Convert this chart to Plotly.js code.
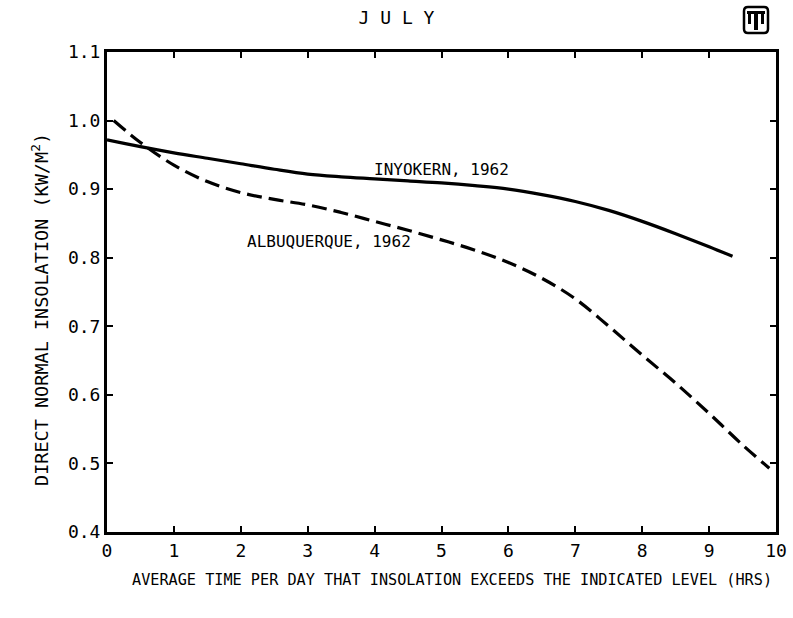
<!DOCTYPE html>
<html>
<head>
<meta charset="utf-8">
<script src="https://cdn.plot.ly/plotly-3.0.1.min.js"></script>
<style>html,body{margin:0;padding:0;background:#fff;}#chart{width:793px;height:618px;}</style>
</head>
<body>
<div id="chart"></div>
<script>
// Data
const inyokernHours = [0, 0.5, 1, 1.5, 2, 2.5, 3, 3.5, 4, 4.5, 5, 5.5, 6, 6.5, 7, 7.5, 8, 8.5, 9, 9.35];
const inyokernLevel = [0.972, 0.962, 0.953, 0.945, 0.937, 0.929, 0.922, 0.918, 0.915, 0.912, 0.909, 0.905, 0.900, 0.892, 0.882, 0.869, 0.853, 0.835, 0.816, 0.802];
const albuqHours = [0.1, 0.5, 1, 1.5, 2, 2.5, 3, 3.5, 4, 4.5, 5, 5.5, 6, 6.5, 7, 7.5, 8, 8.5, 9, 9.5, 9.9];
const albuqLevel = [1.0, 0.968, 0.935, 0.911, 0.895, 0.885, 0.877, 0.866, 0.853, 0.840, 0.826, 0.811, 0.793, 0.770, 0.740, 0.700, 0.658, 0.617, 0.573, 0.527, 0.493];
const xTickVals = [0, 1, 2, 3, 4, 5, 6, 7, 8, 9, 10];
const yTickVals = [0.4, 0.5, 0.6, 0.7, 0.8, 0.9, 1.0, 1.1];
const yTickText = ["0.4", "0.5", "0.6", "0.7", "0.8", "0.9", "1.0", "1.1"];
const titleText = "J U L Y";
const xTitleText = "AVERAGE TIME PER DAY THAT INSOLATION EXCEEDS THE INDICATED LEVEL (HRS)";
const yTitleText = "DIRECT NORMAL INSOLATION (KW/M<sup>2</sup>)";
const seriesLabels = ["INYOKERN, 1962", "ALBUQUERQUE, 1962"];

const FONT = "DejaVu Sans Mono, Liberation Mono, monospace";

const traces = [
  {x: inyokernHours, y: inyokernLevel, mode: "lines", line: {color: "#000", width: 3.2, shape: "spline"}, hoverinfo: "skip"},
  {x: albuqHours, y: albuqLevel, mode: "lines", line: {color: "#000", width: 3.2, shape: "spline", dash: "15px,7px"}, hoverinfo: "skip"}
];

// logo geometry helpers (pixel -> paper), plot area: x 107..776, y 52..532
const L = 107, R = 776, T = 52, B = 532;
const px = v => (v - L) / (R - L);
const py = v => (B - v) / (B - T);

const shapes = [
  {type: "path", xref: "paper", yref: "paper",
   path: `M ${px(748)} ${py(7)} L ${px(764)} ${py(7)} Q ${px(768)} ${py(7)} ${px(768)} ${py(11)} L ${px(768)} ${py(29)} Q ${px(768)} ${py(33)} ${px(764)} ${py(33)} L ${px(748)} ${py(33)} Q ${px(744)} ${py(33)} ${px(744)} ${py(29)} L ${px(744)} ${py(11)} Q ${px(744)} ${py(7)} ${px(748)} ${py(7)} Z`,
   line: {color: "#000", width: 2.5}, fillcolor: "rgba(0,0,0,0)"},
  {type: "rect", xref: "paper", yref: "paper", x0: px(747), x1: px(765), y0: py(14), y1: py(11), fillcolor: "#000", line: {width: 0}},
  {type: "rect", xref: "paper", yref: "paper", x0: px(754), x1: px(758), y0: py(30), y1: py(11), fillcolor: "#000", line: {width: 0}},
  {type: "rect", xref: "paper", yref: "paper", x0: px(748), x1: px(751), y0: py(24), y1: py(14), fillcolor: "#000", line: {width: 0}},
  {type: "rect", xref: "paper", yref: "paper", x0: px(761), x1: px(764), y0: py(24), y1: py(14), fillcolor: "#000", line: {width: 0}}
];

const layout = {
  width: 793, height: 618,
  margin: {l: 107, r: 17, t: 52, b: 86},
  paper_bgcolor: "#fff", plot_bgcolor: "#fff",
  showlegend: false,
  font: {family: FONT, color: "#000", size: 16},
  title: {text: titleText, font: {family: FONT, size: 18, color: "#000"}, x: 0.5, xanchor: "center", y: 0.972, yanchor: "middle"},
  xaxis: {
    range: [0, 10], tickvals: xTickVals, ticks: "inside", ticklen: 6, tickwidth: 2, tickcolor: "#000",
    showline: true, linecolor: "#000", linewidth: 3, mirror: "ticks", showgrid: false, zeroline: false,
    tickfont: {family: FONT, size: 18, color: "#000"}
  },
  yaxis: {
    range: [0.4, 1.1], tickvals: yTickVals, ticktext: yTickText, ticks: "inside", ticklen: 6, tickwidth: 2, tickcolor: "#000",
    showline: true, linecolor: "#000", linewidth: 3, mirror: "ticks", showgrid: false, zeroline: false,
    tickfont: {family: FONT, size: 18, color: "#000"}
  },
  annotations: [
    {x: 3.96, y: 0.928, xref: "x", yref: "y", text: seriesLabels[0], showarrow: false, xanchor: "left", yanchor: "middle", font: {family: FONT, size: 16, color: "#000"}},
    {x: 2.06, y: 0.823, xref: "x", yref: "y", text: seriesLabels[1], showarrow: false, xanchor: "left", yanchor: "middle", font: {family: FONT, size: 16, color: "#000"}},
    {x: px(452), y: py(580), xref: "paper", yref: "paper", text: xTitleText, showarrow: false, xanchor: "center", yanchor: "middle", font: {family: FONT, size: 15.2, color: "#000"}},
    {x: px(40), y: py(310), xref: "paper", yref: "paper", text: yTitleText, textangle: -90, showarrow: false, xanchor: "center", yanchor: "middle", font: {family: FONT, size: 18.5, color: "#000"}}
  ],
  shapes: shapes
};

Plotly.newPlot("chart", traces, layout, {staticPlot: true, displayModeBar: false});
</script>
</body>
</html>
